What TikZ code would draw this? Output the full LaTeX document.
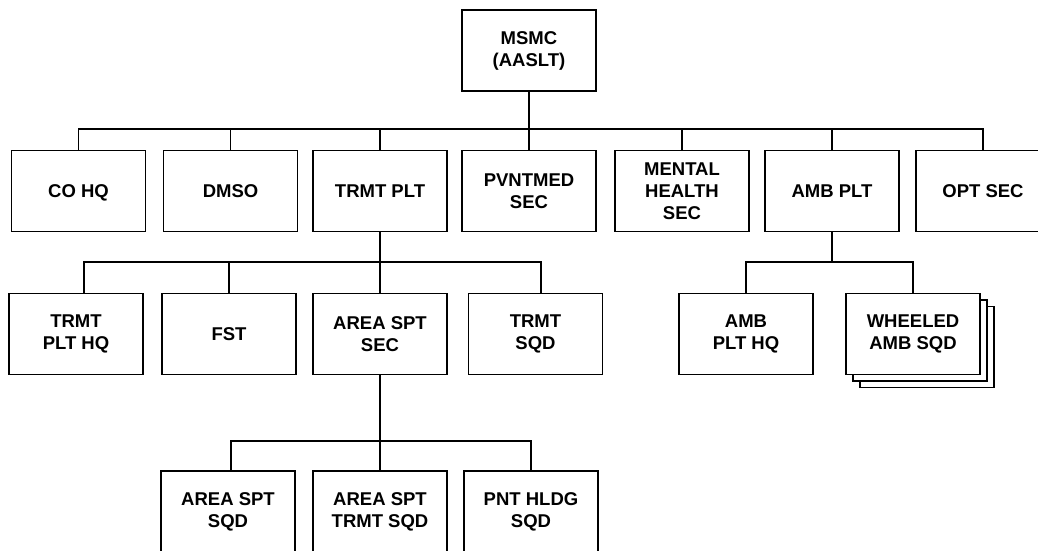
\documentclass[tikz,border=0pt]{standalone}
\usepackage{fontspec}
\setmainfont{Liberation Sans}
\begin{document}
\begin{tikzpicture}[x=1pt,y=-1pt,
  orgbox/.style={draw, line width=1.5pt, fill=white, minimum width=134pt, minimum height=81pt,
    inner sep=0pt, outer sep=0pt, align=center, font=\fontsize{18.5}{22}\selectfont\bfseries},
  conn/.style={line width=1.5pt}]
\useasboundingbox (0,0) rectangle (1038,550);
\fill[white] (0,0) rectangle (1038,550);
% top
\node[orgbox] (msmc) at (529,50.5) {MSMC\\(AASLT)};
% row 1
\node[orgbox] (cohq) at (78.5,191) {CO H\smash{Q}};
\node[orgbox] (dmso) at (230.5,191) {DMSO};
\node[orgbox] (trmtplt) at (380,191) {TRMT PLT};
\node[orgbox] (pvnt) at (529,191) {PVNTMED\\SEC};
\node[orgbox] (mental) at (682,191) {MENTAL\\HEALTH\\SEC};
\node[orgbox] (ambplt) at (832,191) {AMB PLT};
\node[orgbox] (opt) at (983,191) {OPT SEC};
% row 2
\node[orgbox] (trmthq) at (76,334) {TRMT\\PLT HQ};
\node[orgbox] (fst) at (229,334) {FST};
\node[orgbox] (areasec) at (380,334) {AREA SPT\\SEC};
\node[orgbox] (trmtsqd) at (535.5,334) {TRMT\\SQD};
\node[orgbox] (ambhq) at (746,334) {AMB\\PLT HQ};
\node[orgbox] (wheelc) at (927,347) {};
\node[orgbox] (wheelb) at (920,340.5) {};
\node[orgbox] (wheel) at (913,334) {WHEELED\\AMB SQD};
% row 3
\node[orgbox] (areasqd) at (228,511.5) {AREA SPT\\SQD};
\node[orgbox] (areatrmt) at (380,511.5) {AREA SPT\\TRMT SQD};
\node[orgbox] (pnt) at (531,511.5) {PNT HLDG\\SQD};
% bus coordinates
\coordinate (bus1) at (0,129);
\coordinate (bus2) at (0,262);
\coordinate (bus3) at (0,441);
% level 1 connectors
\draw[conn] (msmc.south) -- (pvnt.north);
\draw[conn] (cohq.north) -- (cohq.north |- bus1) -- (opt.north |- bus1) -- (opt.north);
\foreach \n in {dmso,trmtplt,mental,ambplt}
  \draw[conn] (\n.north) -- (\n.north |- bus1);
% level 2 connectors (TRMT PLT)
\draw[conn] (trmtplt.south) -- (areasec.north);
\draw[conn] ([xshift=8pt]trmthq.north) -- ([xshift=8pt]trmthq.north |- bus2)
  -- ([xshift=5.5pt]trmtsqd.north |- bus2) -- ([xshift=5.5pt]trmtsqd.north);
\draw[conn] (fst.north) -- (fst.north |- bus2);
% level 2 connectors (AMB PLT)
\draw[conn] (ambplt.south) -- (ambplt.south |- bus2);
\draw[conn] (ambhq.north) -- (ambhq.north |- bus2) -- (wheel.north |- bus2) -- (wheel.north);
% level 3 connectors
\draw[conn] (areasec.south) -- (areatrmt.north);
\draw[conn] ([xshift=3pt]areasqd.north) -- ([xshift=3pt]areasqd.north |- bus3) -- (pnt.north |- bus3) -- (pnt.north);
\end{tikzpicture}
\end{document}
